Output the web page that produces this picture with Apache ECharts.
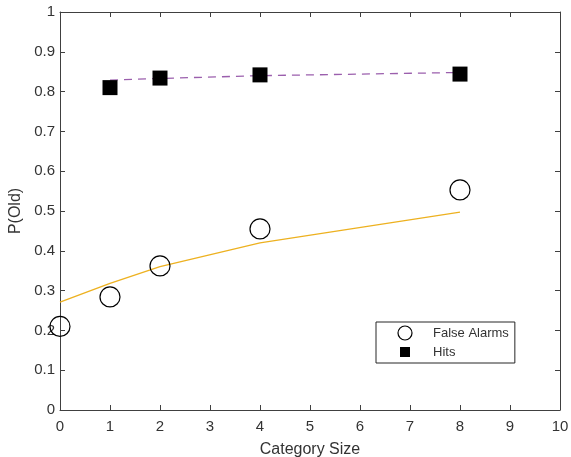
<!DOCTYPE html>
<html><head><meta charset="utf-8">
<script src="https://cdn.jsdelivr.net/npm/echarts@6/dist/echarts.min.js"></script>
<style>html,body{margin:0;padding:0;background:#fff}#c{width:571px;height:457px}</style>
</head><body><div id="c"></div>
<script>
const faX = [0, 1, 2, 4, 8];
const faY = [0.21, 0.284, 0.362, 0.455, 0.553];
const faFit = [0.271, 0.318, 0.36, 0.42, 0.497];
const hitX = [1, 2, 4, 8];
const hitY = [0.81, 0.834, 0.842, 0.844];
const hitFit = [0.829, 0.833, 0.84, 0.848];
const xTicks = [0,1,2,3,4,5,6,7,8,9,10];
const yTicks = [0,0.1,0.2,0.3,0.4,0.5,0.6,0.7,0.8,0.9,1];

const axisCol = '#404040';
const textCol = '#333333';
const font = 'Liberation Sans, Arial, sans-serif';
const zip = (xs, ys) => xs.map((x, i) => [x, ys[i]]);

const chart = echarts.init(document.getElementById('c'));
chart.setOption({
  animation: false,
  grid: {left: 60, right: 11, top: 12, bottom: 47, containLabel: false, outerBoundsMode: 'none'},
  xAxis: [{
    type: 'value', min: xTicks[0], max: xTicks[xTicks.length - 1], interval: 1,
    name: 'Category Size', nameLocation: 'middle', nameGap: 32,
    nameTextStyle: {fontFamily: font, fontSize: 16, color: textCol},
    axisLine: {onZero: false, lineStyle: {color: axisCol, width: 1}},
    axisTick: {inside: true, length: 5, lineStyle: {color: axisCol}},
    axisLabel: {fontFamily: font, fontSize: 15, color: textCol, margin: 9},
    splitLine: {show: false}
  }, {
    type: 'value', position: 'top', min: xTicks[0], max: xTicks[xTicks.length - 1], interval: 1,
    axisLine: {onZero: false, lineStyle: {color: axisCol, width: 1}},
    axisTick: {inside: true, length: 5, lineStyle: {color: axisCol}},
    axisLabel: {show: false}, splitLine: {show: false}
  }],
  yAxis: [{
    type: 'value', min: yTicks[0], max: yTicks[yTicks.length - 1], interval: 0.1,
    name: 'P(Old)', nameLocation: 'middle', nameGap: 35,
    nameTextStyle: {fontFamily: font, fontSize: 16, color: textCol},
    axisLine: {show: true, onZero: false, lineStyle: {color: axisCol, width: 1}},
    axisTick: {show: true, inside: true, length: 5, lineStyle: {color: axisCol}},
    axisLabel: {fontFamily: font, fontSize: 15, color: textCol, margin: 5,
      formatter: v => String(Math.round(v * 10) / 10)},
    splitLine: {show: false}
  }, {
    type: 'value', position: 'right', min: yTicks[0], max: yTicks[yTicks.length - 1], interval: 0.1,
    axisLine: {show: true, onZero: false, lineStyle: {color: axisCol, width: 1}},
    axisTick: {show: true, inside: true, length: 5, lineStyle: {color: axisCol}},
    axisLabel: {show: false}, splitLine: {show: false}
  }],
  legend: {
    left: 376, top: 322, orient: 'vertical',
    padding: [3, 6, 2, 20],
    itemGap: 2, itemWidth: 14, itemHeight: 14,
    borderColor: '#262626', borderWidth: 1, borderRadius: 0,
    backgroundColor: '#fff',
    textStyle: {fontFamily: font, fontSize: 13, lineHeight: 16, color: textCol, padding: [0, 0, 0, 16]},
    data: [
      {name: 'False Alarms', icon: 'circle', itemStyle: {color: '#fff', borderColor: '#000', borderWidth: 1.2, opacity: 1}},
      {name: 'Hits', icon: 'rect', itemStyle: {color: '#000', borderColor: '#fff', borderWidth: 4, opacity: 1}}
    ]
  },
  series: [
    {type: 'line', name: 'faFit', data: zip(faX, faFit), symbol: 'none',
      lineStyle: {color: '#EDB120', width: 1.3}, z: 1},
    {type: 'line', name: 'hitFit', data: zip(hitX, hitFit), symbol: 'none',
      lineStyle: {color: '#9b5fad', width: 1.3, type: [8, 6]}, z: 1},
    {type: 'scatter', name: 'False Alarms', data: zip(faX, faY), symbol: 'circle', symbolSize: 20,
      itemStyle: {color: 'rgba(0,0,0,0)', borderColor: '#000', borderWidth: 1.2, opacity: 1}, z: 3},
    {type: 'scatter', name: 'Hits', data: zip(hitX, hitY), symbol: 'rect', symbolSize: 15,
      itemStyle: {color: '#000', opacity: 1}, z: 3}
  ]
});
</script></body></html>
